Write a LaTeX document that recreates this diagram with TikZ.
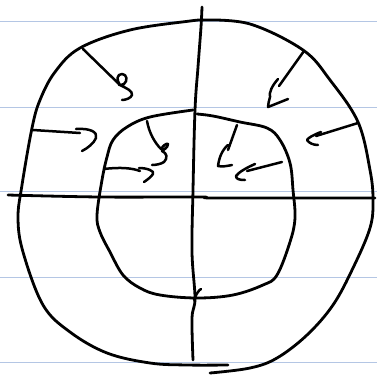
\documentclass[tikz,border=0pt]{standalone}
\begin{document}
\begin{tikzpicture}[x=1pt,y=-1pt,
  ruled/.style={draw={rgb,255:red,180;green,198;blue,228},line width=1pt},
  pen/.style={draw=black,line width=2.8pt,line cap=round,line join=round},
  penthin/.style={draw=black,line width=2.5pt,line cap=round,line join=round}]
\useasboundingbox[fill=white] (0,0) rectangle (377,375);
% notebook lines
\foreach \yy in {21,107,191,277,362} {\draw[ruled] (0,\yy) -- (377,\yy);}
% outer contour
\draw[pen] plot[smooth,tension=0.6] coordinates {(228,365) (187,365) (150,363) (107,353) (70,332) (43,305) (23,252) (18,218) (22,185) (32,128) (40,100) (55,72) (80,48) (130,30) (190,21) (203,20)};
\draw[pen] plot[smooth,tension=0.6] coordinates {(203,20) (250,24) (303,50) (330,80) (358,122) (370,170) (373,200) (370,228) (353,268) (333,305) (307,335) (277,358) (250,368) (210,373)};
% inner contour
\draw[pen] plot[smooth,tension=0.6] coordinates {(193,110) (150,117) (127,127) (113,140) (107,157) (102,180) (97,215) (100,232) (110,252) (123,275) (140,288) (160,295) (197,298) (233,295) (263,285) (277,275) (290,242) (295,218) (293,190) (290,163) (280,140) (267,128) (240,122) (213,116) (197,114)};
% axes
\draw[pen] plot[smooth,tension=0.6] coordinates {(202,7) (201,27) (198,67) (195,110) (193,190) (192,252) (195,298) (192,318) (193,360)};
\draw[pen] plot[smooth,tension=0.6] coordinates {(8,195) (100,197) (200,197) (217,198) (375,198)};
\draw[penthin] (194,300) .. controls (196,294) and (199,290) .. (201,289);
% outer arrows
\draw[penthin] (83,49) -- (120,85) .. controls (116,80) and (117,74) .. (122,74) .. controls (127,74) and (128,81) .. (124,84) .. controls (120,86) and (117,84) .. (120,85) .. controls (126,88) and (133,91) .. (132,95) .. controls (131,98) and (126,100) .. (122,100);
\draw[penthin] (304,51) -- (279,86);
\draw[penthin] (278,79) .. controls (272,86) and (269,92) .. (270,97) .. controls (269,101) and (268,104) .. (268,107) -- (288,99);
\draw[penthin] (33,130) -- (80,133);
\draw[penthin] (76,129) .. controls (90,128) and (98,132) .. (96,138) .. controls (94,143) and (88,148) .. (82,151);
\draw[penthin] (358,123) -- (316,136);
\draw[penthin] (321,132) .. controls (313,135) and (308,138) .. (307,140) .. controls (309,143) and (313,145) .. (318,145);
% inner arrows
\draw[penthin] (147,121) .. controls (149,132) and (154,142) .. (161,149) .. controls (163,146) and (166,143) .. (168,144) .. controls (168,148) and (163,150) .. (162,151) .. controls (167,153) and (168,158) .. (164,162) .. controls (161,164) and (156,165) .. (152,165);
\draw[penthin] (104,169) .. controls (120,167) and (132,168) .. (140,171);
\draw[penthin] (139,168) .. controls (147,168) and (155,171) .. (153,174) .. controls (151,177) and (147,180) .. (144,182);
\draw[penthin] (237,125) -- (228,150);
\draw[penthin] (228,145) .. controls (222,150) and (219,158) .. (218,166) .. controls (222,167) and (227,166) .. (232,165);
\draw[penthin] (282,162) -- (247,171);
\draw[penthin] (255,164) .. controls (246,168) and (239,172) .. (236,176) .. controls (236,179) and (239,180) .. (245,180);
\end{tikzpicture}
\end{document}
